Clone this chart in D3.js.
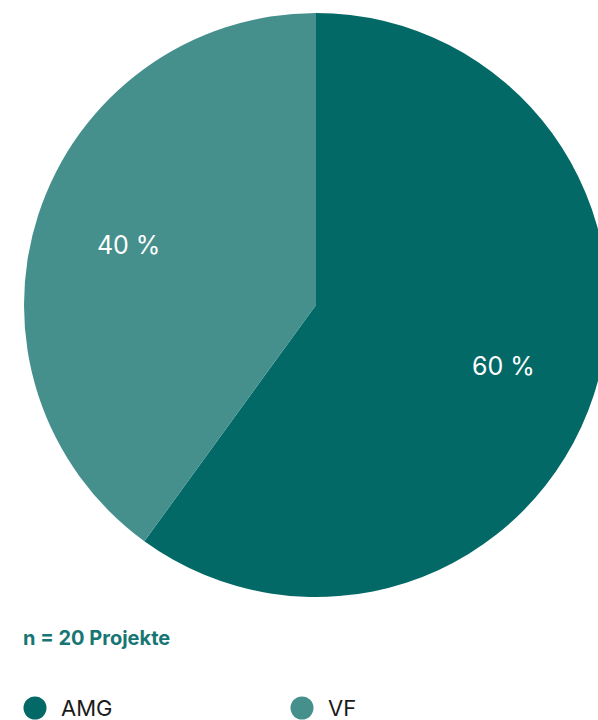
<!DOCTYPE html>
<html>
<head>
<meta charset="utf-8">
<script src="https://cdn.jsdelivr.net/npm/d3@7"></script>
<style>
  html, body { margin: 0; padding: 0; background: #ffffff; }
  svg { display: block; }
</style>
</head>
<body>
<svg id="chart" width="598" height="720"></svg>
<script>
// Share of projects per programme
const categories = ["AMG", "VF"];
const shares = [60, 40];
const colors = ["#026967", "#458f8d"];
const noteText = "n = 20 Projekte";

const svg = d3.select("#chart");
const cx = 316, cy = 305, radius = 292;

const pie = d3.pie().sort(null).value(d => d.value);
const arcs = pie(categories.map((c, i) => ({ name: c, value: shares[i], color: colors[i] })));

const arc = d3.arc().innerRadius(0).outerRadius(radius);
const labelArc = d3.arc().innerRadius(197).outerRadius(197);

const g = svg.append("g").attr("transform", `translate(${cx},${cy})`);

g.selectAll("path.slice")
  .data(arcs)
  .join("path")
  .attr("class", "slice")
  .attr("d", arc)
  .attr("fill", d => d.data.color);

g.selectAll("text.pct")
  .data(arcs)
  .join("text")
  .attr("class", "pct")
  .attr("transform", d => `translate(${labelArc.centroid(d)})`)
  .attr("text-anchor", "middle")
  .attr("dy", "0.38em")
  .attr("font-family", "Inter, sans-serif")
  .attr("font-size", 25)
  .attr("font-weight", 400)
  .attr("fill", "#ffffff")
  .text(d => `${d.data.value} %`);

// sample size note
svg.append("text")
  .attr("x", 23)
  .attr("y", 645)
  .attr("font-family", "Inter, sans-serif")
  .attr("font-size", 20)
  .attr("font-weight", 700)
  .attr("fill", "#177674")
  .text(noteText);

// legend
const legendX = d3.scalePoint().domain(categories).range([35, 302]);
const legend = svg.selectAll("g.legend")
  .data(categories)
  .join("g")
  .attr("class", "legend")
  .attr("transform", d => `translate(${legendX(d)},708)`);

legend.append("circle")
  .attr("r", 11.5)
  .attr("fill", (d, i) => colors[i]);

legend.append("text")
  .attr("x", 26)
  .attr("y", 8)
  .attr("font-family", "Inter, sans-serif")
  .attr("font-size", 22)
  .attr("fill", "#1a1a1a")
  .text(d => d);
</script>
</body>
</html>
